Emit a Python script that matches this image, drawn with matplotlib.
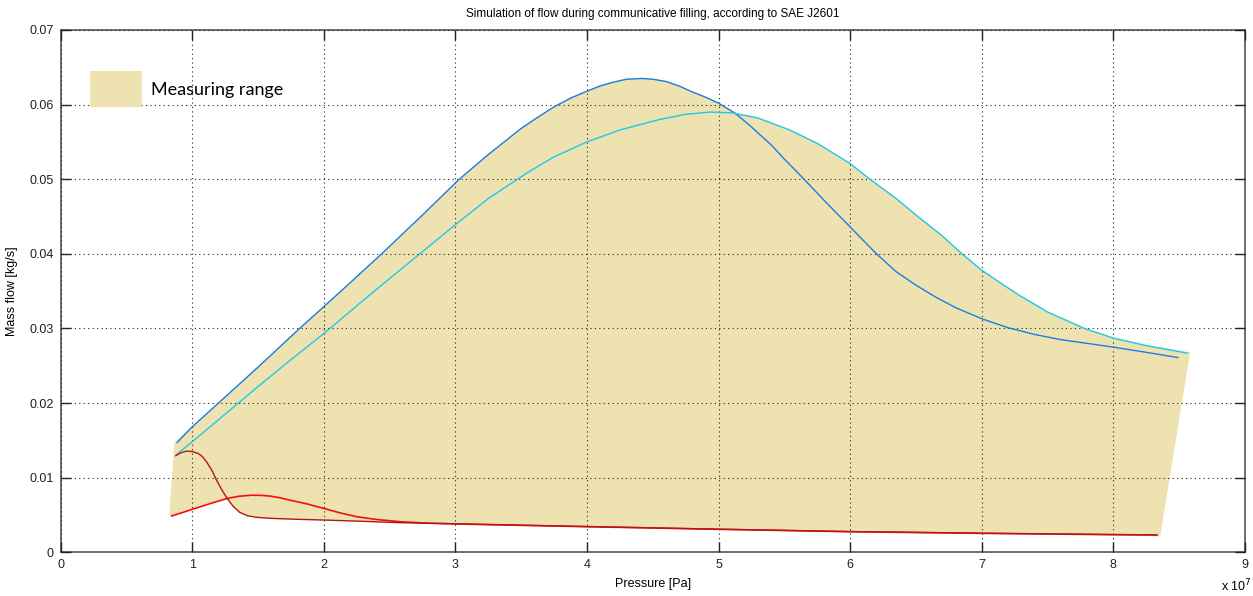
import matplotlib
matplotlib.use("Agg")
import matplotlib.pyplot as plt
from matplotlib.patches import Patch
from matplotlib.ticker import FuncFormatter

# ---- data (pressure in units of 1e7 Pa, mass flow in kg/s) ----
blue_p = [0.886, 1.0, 1.2, 1.5, 1.817, 2.1, 2.44, 2.75, 3.03, 3.25, 3.5, 3.6, 3.75, 3.88, 4.0, 4.1,
          4.2, 4.3, 4.42, 4.5, 4.6, 4.7, 4.8, 4.9, 5.0, 5.13, 5.25, 5.4, 5.5, 5.65, 5.8, 6.0, 6.1,
          6.2, 6.35, 6.5, 6.65, 6.8, 7.0, 7.2, 7.4, 7.6, 7.8, 8.0, 8.25, 8.49]
blue_m = [0.0147, 0.0168, 0.0200, 0.0248, 0.0300, 0.0345, 0.0400, 0.0452, 0.0500, 0.0533, 0.0568,
          0.0580, 0.0597, 0.0609, 0.0618, 0.0625, 0.0630, 0.0634, 0.0635, 0.0634, 0.0631, 0.0625,
          0.0617, 0.0610, 0.0602, 0.0588, 0.0570, 0.0546, 0.0527, 0.0500, 0.0472, 0.0436, 0.0418,
          0.0400, 0.0376, 0.0358, 0.0342, 0.0328, 0.0313, 0.0301, 0.0292, 0.0285, 0.0280, 0.0275,
          0.0268, 0.0261]

cyan_p = [0.876, 1.0, 1.25, 1.5, 1.75, 2.0, 2.35, 2.73, 3.0, 3.25, 3.54, 3.75, 4.0, 4.25, 4.55,
          4.75, 4.93, 5.1, 5.3, 5.54, 5.75, 6.0, 6.15, 6.35, 6.5, 6.7, 6.85, 7.0, 7.15, 7.28, 7.5,
          7.78, 8.0, 8.25, 8.56]
cyan_m = [0.0130, 0.0148, 0.0185, 0.0222, 0.0258, 0.0293, 0.0345, 0.0400, 0.0439, 0.0474, 0.0508,
          0.0530, 0.0550, 0.0566, 0.0580, 0.0587, 0.0590, 0.0589, 0.0582, 0.0566, 0.0548, 0.0521,
          0.0500, 0.0474, 0.0452, 0.0424, 0.0400, 0.0378, 0.0360, 0.0345, 0.0322, 0.0300, 0.0287,
          0.0277, 0.0267]

red_p = [0.844, 1.0, 1.15, 1.27, 1.35, 1.45, 1.52, 1.59, 1.67, 1.74, 1.87, 2.0, 2.12, 2.25, 2.4,
         2.58, 2.8, 3.0, 4.0, 5.0, 6.0, 7.0, 8.0, 8.33]
red_m = [0.00486, 0.00575, 0.00660, 0.00723, 0.00750, 0.00765, 0.00763, 0.00754, 0.00730, 0.00700,
         0.00650, 0.00589, 0.00530, 0.00477, 0.00440, 0.00410, 0.00390, 0.00380, 0.00343, 0.00308,
         0.00276, 0.00254, 0.00236, 0.00232]

dred_p = [0.876, 0.91, 0.957, 1.0, 1.046, 1.08, 1.109, 1.15, 1.185, 1.225, 1.266, 1.31, 1.362, 1.42,
          1.489, 1.6, 1.8, 1.994, 2.3, 2.576, 3.0, 4.0, 5.0, 6.0, 7.0, 8.0, 8.33]
dred_m = [0.01294, 0.01330, 0.01357, 0.01350, 0.01325, 0.01280, 0.01214, 0.01100, 0.00968, 0.00840,
          0.00723, 0.00620, 0.00535, 0.00490, 0.00469, 0.00455, 0.00442, 0.00433, 0.00415, 0.00397,
          0.00382, 0.00345, 0.00310, 0.00278, 0.00256, 0.00238, 0.00234]

# measuring range envelope
range_top_p = [0.866, 1.0, 1.2, 1.5, 1.817, 2.1, 2.44, 2.75, 3.03, 3.25, 3.5, 3.6, 3.75, 3.88, 4.0,
               4.1, 4.2, 4.3, 4.42, 4.5, 4.6, 4.7, 4.8, 4.9, 5.0, 5.13, 5.3, 5.54, 5.75, 6.0, 6.15,
               6.35, 6.5, 6.7, 6.85, 7.0, 7.15, 7.28, 7.5, 7.78, 8.0, 8.25, 8.583]
range_top_m = [0.0148, 0.0169, 0.0201, 0.0249, 0.0301, 0.0346, 0.0401, 0.0453, 0.0501, 0.0534,
               0.0569, 0.0581, 0.0598, 0.0610, 0.0619, 0.0626, 0.0631, 0.0635, 0.0636, 0.0635,
               0.0632, 0.0626, 0.0618, 0.0611, 0.0603, 0.0589, 0.0583, 0.0567, 0.0549, 0.0522,
               0.0501, 0.0475, 0.0453, 0.0425, 0.0401, 0.0379, 0.0361, 0.0346, 0.0323, 0.0301,
               0.0288, 0.0278, 0.0268]
range_bot_p = [0.826, 1.0, 1.15, 1.266, 1.31, 1.362, 1.42, 1.489, 1.6, 1.8, 1.994, 2.3, 2.576, 3.0,
               4.0, 5.0, 6.0, 7.0, 8.0, 8.355]
range_bot_m = [0.00484, 0.00572, 0.00657, 0.00720, 0.00617, 0.00532, 0.00487, 0.00466, 0.00452,
               0.00439, 0.00430, 0.00412, 0.00394, 0.00378, 0.00341, 0.00306, 0.00274, 0.00252,
               0.00234, 0.00210]

x_ticks = [0, 1, 2, 3, 4, 5, 6, 7, 8, 9]
y_ticks = [0, 0.01, 0.02, 0.03, 0.04, 0.05, 0.06, 0.07]

# ---- figure ----
plt.rcParams['font.family'] = ['Liberation Sans', 'DejaVu Sans']
fig = plt.figure(figsize=(12.53, 5.96), dpi=100)
ax = fig.add_axes([60.5 / 1253, 1 - 552.3 / 596, (1245 - 60.5) / 1253, (552.3 - 30) / 596])

fill_color = '#eee2b0'
poly_p = range_top_p + range_bot_p[::-1]
poly_m = range_top_m + range_bot_m[::-1]
ax.fill(poly_p, poly_m, color=fill_color, lw=0, zorder=1)

ax.plot(blue_p, blue_m, color='#1a7de8', lw=1.0, zorder=3)
ax.plot(cyan_p, cyan_m, color='#1ec8ee', lw=1.0, zorder=3)
ax.plot(red_p, red_m, color='#f01010', lw=1.2, zorder=3)
ax.plot(dred_p, dred_m, color='#b01818', lw=1.0, zorder=3)

ax.set_xlim(0, 9)
ax.set_ylim(0, 0.07)
ax.set_xticks(x_ticks)
ax.set_yticks(y_ticks)
ax.xaxis.set_major_formatter(FuncFormatter(lambda v, pos: f"{v:g}"))
ax.yaxis.set_major_formatter(FuncFormatter(lambda v, pos: f"{v:g}"))
ax.tick_params(direction='in', length=7, width=1, top=True, right=True,
               labelsize=9, colors='#222222', pad=5)
for s in ax.spines.values():
    s.set_color('#555555')
    s.set_linewidth(1.2)
ax.grid(True, color='#222222', linestyle=(0, (1, 3)), linewidth=0.8)
ax.set_axisbelow(False)

ax.set_title('Simulation of flow during communicative filling, according to SAE J2601',
             fontsize=8.5, pad=9)
ax.set_xlabel('Pressure [Pa]', fontsize=9, labelpad=5)
ax.set_ylabel('Mass flow [kg/s]', fontsize=9, labelpad=8)
fig.text(1221 / 1253, 1 - 591 / 596, r'x 10$^{7}$', fontsize=9, ha='left', va='baseline')

leg = ax.legend(handles=[Patch(facecolor=fill_color, edgecolor='none', label='Measuring range')],
                loc='upper left', bbox_to_anchor=(0.0249, 0.921), frameon=False,
                prop={'family': 'Lato', 'size': 13}, handlelength=2.9, handleheight=2.7,
                handletextpad=0.5, borderpad=0, borderaxespad=0)

fig.savefig('out.png', dpi=100)
